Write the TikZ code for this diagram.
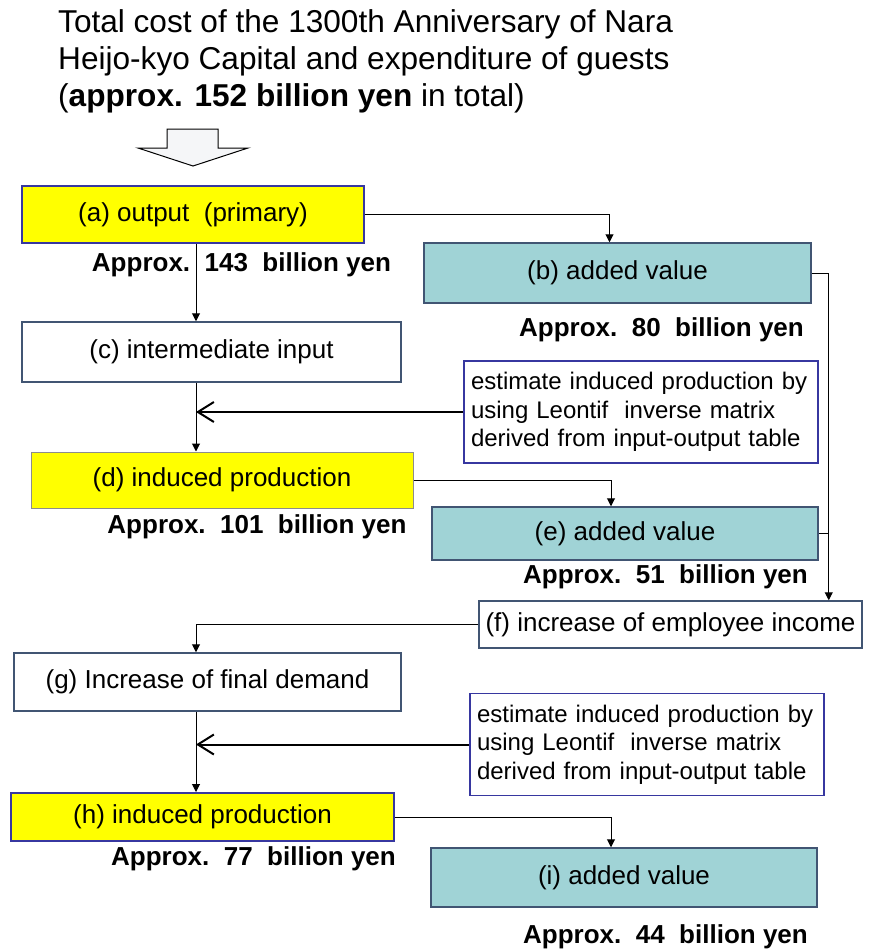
\documentclass[tikz,border=0pt]{standalone}
\usepackage{fontspec}
\setmainfont{Liberation Sans}
\usetikzlibrary{arrows.meta}
\definecolor{boxyellow}{RGB}{255,255,0}
\definecolor{boxteal}{RGB}{160,211,214}
\definecolor{edgeblue}{RGB}{55,55,160}
\definecolor{edgeslate}{RGB}{65,85,115}
\definecolor{edgegray}{RGB}{140,140,140}
\definecolor{blockfill}{RGB}{245,246,248}
\begin{document}
\begin{tikzpicture}[x=1pt, y=-1pt,
    box/.style={draw=edgeslate, line width=1.5pt, inner sep=2pt, font=\fontsize{26}{31}\selectfont},
    note/.style={draw=edgeblue, line width=1.5pt, fill=white, minimum width=354pt, minimum height=102pt,
        text width=340pt, align=left, inner sep=7pt, font=\fontsize{24}{28.5}\selectfont},
    amount/.style={inner sep=0pt, font=\bfseries\fontsize{26}{31}\selectfont},
    arr/.style={-{Triangle[length=8pt,width=8pt]}, line width=1pt},
    barb/.style={-{Straight Barb[length=16pt,width=20pt]}, line width=2pt}]
    \useasboundingbox [fill=white] (0, 0) rectangle (870, 951);
    \node [anchor=north west, inner sep=0pt, align=left, font=\fontsize{31.6}{37}\selectfont] (title) at (58, 9)
        {Total cost of the 1300th Anniversary of Nara\\ Heijo-kyo Capital and expenditure of guests\\ (\textbf{approx. 152 billion yen} in total)};
    \draw [fill=blockfill, line width=1pt] (167, 129) -- (218, 129) -- (218, 148) -- (248, 148)
        -- (193, 166) -- (138, 148) -- (167, 148) -- cycle;
    \coordinate (trunk) at (196, 0);
    % first round
    \node [box, fill=boxyellow, draw=edgeblue, minimum width=342pt, minimum height=57pt] (a) at (193, 214.5) {(a) output\ \ (primary)};
    \node [amount] (aval) at (241.5, 265) {Approx.\ \ 143\ \ billion yen};
    \node [box, fill=boxteal, minimum width=387pt, minimum height=60pt] (b) at (617.5, 273) {(b) added value};
    \node [amount] (bval) at (661.5, 330) {Approx.\ \ 80\ \ billion yen};
    \node [box, fill=white, minimum width=379pt, minimum height=60pt] (c) at (211.5, 352) {(c) intermediate input};
    \node [note] (leon1) at (641, 412) {estimate induced production by\\ using Leontif\ \ inverse matrix\\ derived from input-output table};
    \node [box, fill=boxyellow, draw=edgegray, line width=1pt, minimum width=382pt, minimum height=56pt] (d) at (222, 480) {(d) induced production};
    \node [amount] (dval) at (257, 527) {Approx.\ \ 101\ \ billion yen};
    \node [box, fill=boxteal, minimum width=386pt, minimum height=53pt] (e) at (625, 533.5) {(e) added value};
    \node [amount] (eval) at (665.5, 577) {Approx.\ \ 51\ \ billion yen};
    % second round
    \node [box, fill=white, minimum width=383pt, minimum height=47pt] (f) at (670.5, 624.5) {(f) increase of employee income};
    \node [box, fill=white, minimum width=387pt, minimum height=58pt] (g) at (207.5, 682) {(g) Increase of final demand};
    \node [note] (leon2) at (647, 744.5) {estimate induced production by\\ using Leontif\ \ inverse matrix\\ derived from input-output table};
    \node [box, fill=boxyellow, draw=edgeblue, line width=2pt, minimum width=383pt, minimum height=48pt] (h) at (202.5, 817) {(h) induced production};
    \node [amount] (hval) at (253.5, 859) {Approx.\ \ 77\ \ billion yen};
    \node [box, fill=boxteal, minimum width=386pt, minimum height=59pt] (i) at (624, 877.5) {(i) added value};
    \node [amount] (ival) at (665.5, 937) {Approx.\ \ 44\ \ billion yen};
    % connectors
    \draw [arr] (a.east) -| ([xshift=-8pt]b.north);
    \draw [arr] (a.south -| trunk) -- (c.north -| trunk);
    \draw [arr] (c.south -| trunk) -- (d.north -| trunk);
    \draw [barb] (leon1.west) -- (leon1.west -| trunk);
    \draw [arr] (d.east) -| ([xshift=-14pt]e.north);
    \draw [arr] (b.east) -- ++(17, 0) coordinate (rail) -- (rail |- f.north);
    \draw [line width=1pt] (e.east) -- (e.east -| rail);
    \draw [arr] (f.west) -| (g.north -| trunk);
    \draw [arr] (g.south -| trunk) -- (h.north -| trunk);
    \draw [barb] (leon2.west) -- (leon2.west -| trunk);
    \draw [arr] (h.east) -| ([xshift=-13pt]i.north);
\end{tikzpicture}
\end{document}
